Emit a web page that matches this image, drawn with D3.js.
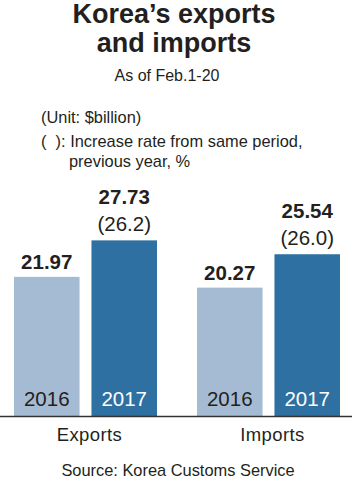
<!DOCTYPE html>
<html>
<head>
<meta charset="utf-8">
<script src="https://cdn.jsdelivr.net/npm/d3@7"></script>
<style>
  body { margin: 0; background: #fff; }
  svg { display: block; font-family: "Liberation Sans", Arial, Helvetica, sans-serif; }
</style>
</head>
<body>
<div id="visual"></div>
<script>
const categories = ["Exports", "Imports"];
const years = ["2016", "2017"];
const values2016 = [21.97, 20.27];
const values2017 = [27.73, 25.54];
const growth2017 = [26.2, 26.0];

const width = 352;
const height = 480;
const baseline = 416;
const textColor = "#231f20";
const barColors = { "2016": "#a5bbd3", "2017": "#2e70a1" };

const rows = [];
categories.forEach((c, i) => {
    rows.push({ cat: c, year: "2016", value: values2016[i], growth: null });
    rows.push({ cat: c, year: "2017", value: values2017[i], growth: growth2017[i] });
});

const svg = d3.select("#visual")
    .append("svg")
    .attr("width", width)
    .attr("height", height);

// titles
svg.append("text")
    .attr("x", 174).attr("y", 23)
    .attr("text-anchor", "middle")
    .attr("font-size", 27).attr("font-weight", "bold")
    .attr("fill", textColor)
    .text("Korea\u2019s exports");
svg.append("text")
    .attr("x", 174).attr("y", 52)
    .attr("text-anchor", "middle")
    .attr("font-size", 27).attr("font-weight", "bold")
    .attr("fill", textColor)
    .text("and imports");
svg.append("text")
    .attr("x", 167).attr("y", 81)
    .attr("text-anchor", "middle")
    .attr("font-size", 16)
    .attr("fill", textColor)
    .text("As of Feb.1-20");

const notes = svg.append("g").attr("font-size", 16.4).attr("fill", textColor);
notes.append("text").attr("x", 41).attr("y", 123).text("(Unit: $billion)");
notes.append("text").attr("x", 41).attr("y", 147).text("(\u00a0\u00a0): Increase rate from same period,");
notes.append("text").attr("x", 69).attr("y", 167).text("previous year, %");

// scales
const x0 = d3.scaleBand().domain(categories).range([14, 340]).paddingInner(0.2186);
const x1 = d3.scaleBand().domain(years).range([0, x0.bandwidth()]).paddingInner(0.154);
const y = d3.scaleLinear().domain([0, 30]).range([baseline, baseline - 190]);

const bars = svg.append("g")
    .selectAll("g")
    .data(rows)
    .enter()
    .append("g")
    .attr("transform", d => "translate(" + (x0(d.cat) + x1(d.year)) + ",0)");

bars.append("rect")
    .attr("x", 0)
    .attr("y", d => y(d.value))
    .attr("width", x1.bandwidth())
    .attr("height", d => baseline - y(d.value))
    .attr("fill", d => barColors[d.year]);

bars.append("text")
    .attr("x", x1.bandwidth() / 2)
    .attr("y", baseline - 10)
    .attr("text-anchor", "middle")
    .attr("font-size", 20.5)
    .attr("fill", d => d.year === "2017" ? "#fff" : textColor)
    .text(d => d.year);

bars.append("text")
    .attr("x", x1.bandwidth() / 2)
    .attr("y", d => d.growth === null ? y(d.value) - 8 : y(d.value) - 36)
    .attr("text-anchor", "middle")
    .attr("font-size", 20.5).attr("font-weight", "bold")
    .attr("fill", textColor)
    .text(d => d.value.toFixed(2));

bars.filter(d => d.growth !== null)
    .append("text")
    .attr("x", x1.bandwidth() / 2)
    .attr("y", d => y(d.value) - 9)
    .attr("text-anchor", "middle")
    .attr("font-size", 20.5)
    .attr("fill", textColor)
    .text(d => "(" + d.growth.toFixed(1) + ")");

// baseline
svg.append("line")
    .attr("x1", 0).attr("x2", width)
    .attr("y1", baseline + 0.5).attr("y2", baseline + 0.5)
    .attr("stroke", "#333").attr("stroke-width", 1.5);

// category labels
svg.append("g")
    .selectAll("text")
    .data(categories)
    .enter()
    .append("text")
    .attr("x", d => x0(d) + x0.bandwidth() / 2 + 4)
    .attr("y", 441)
    .attr("text-anchor", "middle")
    .attr("font-size", 18.5)
    .attr("letter-spacing", 0.4)
    .attr("fill", textColor)
    .text(d => d);

svg.append("text")
    .attr("x", 178).attr("y", 476)
    .attr("text-anchor", "middle")
    .attr("font-size", 16.4)
    .attr("fill", textColor)
    .text("Source: Korea Customs Service");
</script>
</body>
</html>
